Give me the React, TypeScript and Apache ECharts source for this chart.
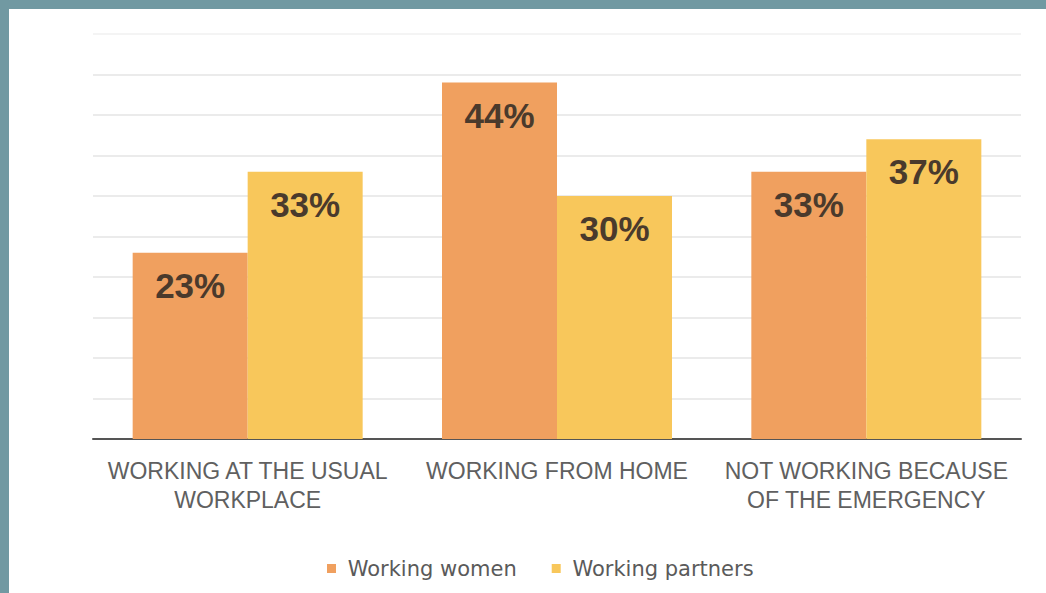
import React, { useEffect, useRef } from "react";
import * as echarts from "echarts";

const categories = [
  "WORKING AT THE USUAL\nWORKPLACE",
  "WORKING FROM HOME",
  "NOT WORKING BECAUSE\nOF THE EMERGENCY",
];
const seriesNames = ["Working women", "Working partners"];
const workingWomen = [23, 44, 33];
const workingPartners = [33, 30, 37];
const colors = ["#f0a05f", "#f8c75b"];

export default function App() {
  const ref = useRef<HTMLDivElement>(null);
  useEffect(() => {
    if (!ref.current) return;
    const chart = echarts.init(ref.current, null, { renderer: "svg" });
    const label = {
      show: true,
      position: "insideTop",
      distance: 15,
      formatter: "{c}%",
      fontFamily: "Liberation Sans, Arial, sans-serif",
      fontSize: 35,
      fontWeight: "bold",
      color: "#4a3a2c",
    };
    const gridColors = [
      "#e4e4e4", "#e4e4e4", "#e4e4e4", "#e4e4e4", "#e4e4e4", "#e4e4e4",
      "#e4e4e4", "#e4e4e4", "#e4e4e4", "#e4e4e4", "#f1f1f1",
    ];
    chart.setOption({
      animation: false,
      backgroundColor: "#ffffff",
      graphic: [
        { type: "rect", left: 0, top: 0, shape: { width: 1046, height: 9 }, style: { fill: "#7199a2" } },
        { type: "rect", left: 0, top: 0, shape: { width: 9, height: 593 }, style: { fill: "#7199a2" } },
      ],
      grid: { left: 93, right: 25, top: 34, bottom: 154 },
      legend: {
        left: 322,
        top: 553,
        icon: "rect",
        itemWidth: 9,
        itemHeight: 9,
        itemGap: 35,
        formatter: " {name}",
        textStyle: {
          fontFamily: "DejaVu Sans, sans-serif",
          fontSize: 21,
          color: "#5a5a5a",
        },
        data: seriesNames,
      },
      xAxis: {
        type: "category",
        data: categories,
        axisLine: { show: true, lineStyle: { color: "#555555", width: 2 } },
        axisTick: { show: false },
        axisLabel: {
          margin: 17,
          interval: 0,
          fontFamily: "Liberation Sans, Arial, sans-serif",
          fontSize: 23,
          lineHeight: 29,
          color: "#606060",
        },
      },
      yAxis: {
        type: "value",
        min: 0,
        max: 50,
        interval: 5,
        axisLine: { show: false },
        axisTick: { show: false },
        axisLabel: { show: false },
        splitLine: { show: true, lineStyle: { color: gridColors, width: 1.5 } },
      },
      series: [
        {
          name: seriesNames[0],
          type: "bar",
          data: workingWomen,
          barWidth: 115,
          barGap: "0%",
          itemStyle: { color: colors[0] },
          label,
        },
        {
          name: seriesNames[1],
          type: "bar",
          data: workingPartners,
          barWidth: 115,
          barGap: "0%",
          itemStyle: { color: colors[1] },
          label,
        },
      ],
    });
    return () => chart.dispose();
  }, []);
  return (
    <div
      ref={ref}
      style={{ position: "fixed", left: 0, top: 0, width: 1046, height: 593 }}
    />
  );
}
